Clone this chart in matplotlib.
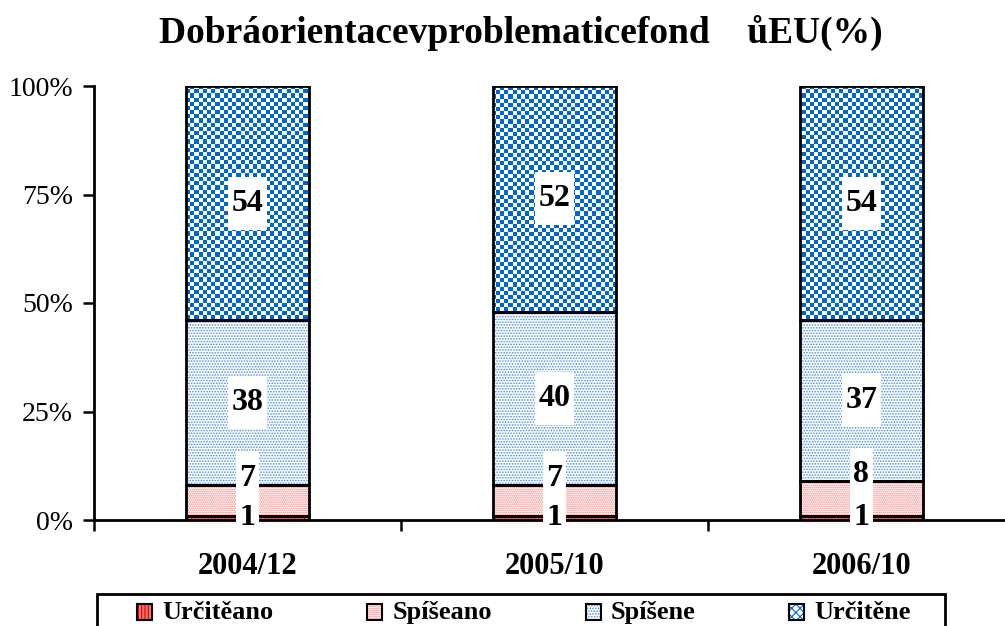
import numpy as np
import matplotlib
matplotlib.use("Agg")
import matplotlib.pyplot as plt
from matplotlib.colors import ListedColormap
from matplotlib.patches import Rectangle
from matplotlib.path import Path

plt.rcParams['font.family'] = ['Liberation Serif', 'DejaVu Serif']

# data
periods = ['2004/12', '2005/10', '2006/10']
series_names = ['Určitěano', 'Spíšeano', 'Spíšene', 'Určitěne']
urciteano = [1, 1, 1]
spiseano = [7, 7, 8]
spisene = [38, 40, 37]
urcitene = [54, 52, 54]
title = 'Dobráorientacevproblematicefond    ůEU(%)'

series = [urciteano, spiseano, spisene, urcitene]
# (face colour, hatch colour, hatch)
styles = [('#ff7070', '#d00000', '|||||'),
          ('white', '#ff7a7a', '........'),
          ('white', '#4d8ee0', '......'),
          ('#0066cc', 'white', '++')]

fig = plt.figure(figsize=(10.05, 6.26), dpi=100)
W, H = 1005, 626
ax = fig.add_axes([94 / W, (H - 520) / H, 921 / W, 434 / H])
plt.rcParams['hatch.linewidth'] = 0.8

x = np.arange(len(periods))
width = 0.4
bottom = np.zeros(len(periods))
bar_sets = []
for vals, (fc, hc, hatch) in zip(series, styles):
    with plt.rc_context({'hatch.color': hc}):
        bars = ax.bar(x, vals, width, bottom=bottom, facecolor=fc,
                      hatch=hatch, linewidth=0, zorder=2)
    ax.bar(x, vals, width, bottom=bottom, fill=False, edgecolor='black',
           linewidth=2, zorder=4)
    bar_sets.append(bars)
    bottom = bottom + np.array(vals)

# checkerboard texture for the top segment
nx, ny = 220, 104
checker = (np.add.outer(np.arange(ny), np.arange(nx)) % 2).astype(float)
cmap = ListedColormap(['white', '#0066cc'])
for b in bar_sets[3]:
    im = ax.imshow(checker, cmap=cmap, extent=(-0.5, 2.5, 0, 100),
                   aspect='auto', interpolation='nearest', zorder=3)
    im.set_clip_path(b)


def tall_box(x0, y0, width, height, mutation_size):
    px = 0.12 * mutation_size
    py = 0.38 * mutation_size
    x0, x1 = x0 - px, x0 + width + px
    y0, y1 = y0 - py, y0 + height + py
    return Path([(x0, y0), (x1, y0), (x1, y1), (x0, y1), (x0, y0)],
                closed=True)


# value labels
bottom = np.zeros(len(periods))
for k, vals in enumerate(series):
    for i, v in enumerate(vals):
        if k == 1:
            y = bottom[i] + v + 1.5
        else:
            y = bottom[i] + v / 2
        ax.text(x[i], y, str(v), ha='center', va='center', fontsize=23,
                fontweight='bold', zorder=6, clip_on=False,
                bbox=dict(boxstyle=tall_box, facecolor='white',
                          edgecolor='none'))
    bottom = bottom + np.array(vals)

ax.set_xlim(-0.5, 2.5)
ax.set_ylim(0, 100)
ax.spines['top'].set_visible(False)
ax.spines['right'].set_visible(False)
ax.spines['left'].set_linewidth(2)
ax.spines['bottom'].set_linewidth(2)
ax.spines['left'].set_zorder(5)
ax.spines['bottom'].set_zorder(5)
ax.set_yticks([0, 25, 50, 75, 100])
ax.set_yticklabels(['0%', '25%', '50%', '75%', '100%'], fontsize=20)
ax.tick_params(axis='y', direction='out', length=8, width=1.8, pad=7)
ax.set_xticks([-0.5, 0.5, 1.5, 2.5])
ax.set_xticklabels([])
ax.tick_params(axis='x', which='major', direction='out', length=8, width=1.8)
ax.set_xticks(x, minor=True)
ax.set_xticklabels(periods, minor=True, fontsize=22, fontweight='bold')
ax.tick_params(axis='x', which='minor', length=0, pad=23)

fig.text(521 / W, 1 - 43 / H, title, ha='center', va='baseline', fontsize=27,
         fontweight='bold')


# legend with black-framed swatches
class Swatch:
    def __init__(self, fc, hc, hatch):
        self.fc, self.hc, self.hatch = fc, hc, hatch


class SwatchHandler:
    def legend_artist(self, legend, orig_handle, fontsize, handlebox):
        x0, y0 = handlebox.xdescent, handlebox.ydescent
        w, h = handlebox.width, handlebox.height
        with plt.rc_context({'hatch.color': orig_handle.hc}):
            p = Rectangle((x0, y0), w, h, facecolor=orig_handle.fc,
                          hatch=orig_handle.hatch, linewidth=0,
                          transform=handlebox.get_transform())
        q = Rectangle((x0, y0), w, h, fill=False, edgecolor='black',
                      linewidth=1.5, transform=handlebox.get_transform())
        handlebox.add_artist(p)
        handlebox.add_artist(q)
        return p


leg_styles = list(styles)
leg_styles[3] = ('white', '#0066cc', 'xxxx')
handles = [Swatch(*s) for s in leg_styles]
leg = fig.legend(handles, series_names, handler_map={Swatch: SwatchHandler()},
                 ncol=4, loc='upper left', bbox_to_anchor=(137 / W, 1 - 601 / H),
                 borderaxespad=0, prop={'weight': 'bold', 'size': 19},
                 handlelength=0.57, handleheight=0.57, handletextpad=0.38,
                 columnspacing=3.56, frameon=False, borderpad=0)

# legend frame (runs off the bottom of the picture)
fig.add_artist(Rectangle((97 / W, -0.05), (945 - 97) / W, 0.05 + 1 - 594 / H,
                         transform=fig.transFigure, fill=False,
                         edgecolor='black', linewidth=2, clip_on=False))

fig.savefig('out.png', dpi=100)
